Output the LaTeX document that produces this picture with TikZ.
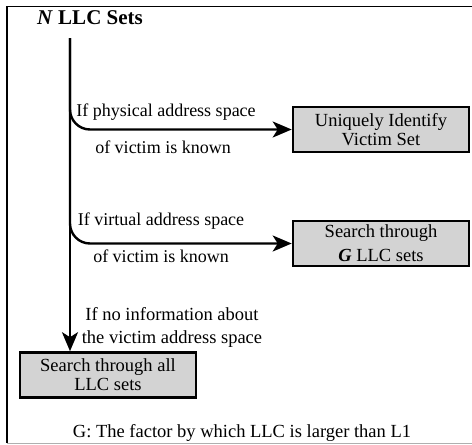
\documentclass[tikz,border=0pt]{standalone}
\usepackage{fontspec}
\setmainfont{Liberation Serif}
\usetikzlibrary{arrows.meta,positioning}
\definecolor{boxfill}{RGB}{211,211,211}
\definecolor{rulegray}{RGB}{175,175,175}
\tikzset{
  res/.style={draw, line width=2.6pt, fill=boxfill, minimum width=176pt, minimum height=45pt, align=center, font=\fontsize{18.5}{19}\selectfont, inner sep=0pt},
  flow/.style={line width=2.4pt, -{Stealth[length=19pt, width=16pt, inset=5pt]}},
  cond/.style={align=center, font=\fontsize{18}{23}\selectfont, inner sep=0pt},
}

\begin{document}
\begin{tikzpicture}[x=1pt, y=-1pt]
  \useasboundingbox (0,0) rectangle (472,445);
  % frame
  \draw[line width=1.6pt] (472,6.5) -- (7,6.5) -- (7,443);
  \draw[rulegray, line width=1.2pt] (7,443.5) -- (472,443.5);
  \node[font=\fontsize{21}{22}\selectfont\bfseries, anchor=west, inner sep=0pt] (title) at (37,18) {\textit{N} LLC Sets};
  \coordinate (spine) at (70,38);
  % outcomes
  \node[res] (phys) at (381,129.5) {Uniquely Identify\\ Victim Set};
  \node[res] (virt) at (381,243.5) {Search through\\[5pt] \textbf{\textit{G}} LLC sets};
  \node[res] (all) at (108,375) {Search through all\\ LLC sets};
  \draw[flow, rounded corners=20pt] (spine) |- (phys.west);
  \draw[flow, rounded corners=20pt] (spine) |- (virt.west);
  \draw[flow] (spine) -- (spine |- all.north);
  % conditions
  \node[cond] (physIf) at (166,112) {If physical address space};
  \node[cond] (physKnown) at (163,147) {of victim is known};
  \node[cond] (virtIf) at (161,221) {If virtual address space};
  \node[cond] (virtKnown) at (161,256) {of victim is known};
  \node[cond, font=\fontsize{18.5}{23}\selectfont] (noInfo) at (172,327.5) {If no information about\\ the victim address space};
  \node[cond, font=\fontsize{18.5}{20}\selectfont] (note) at (242,433) {G: The factor by which LLC is larger than L1};
\end{tikzpicture}
\end{document}
